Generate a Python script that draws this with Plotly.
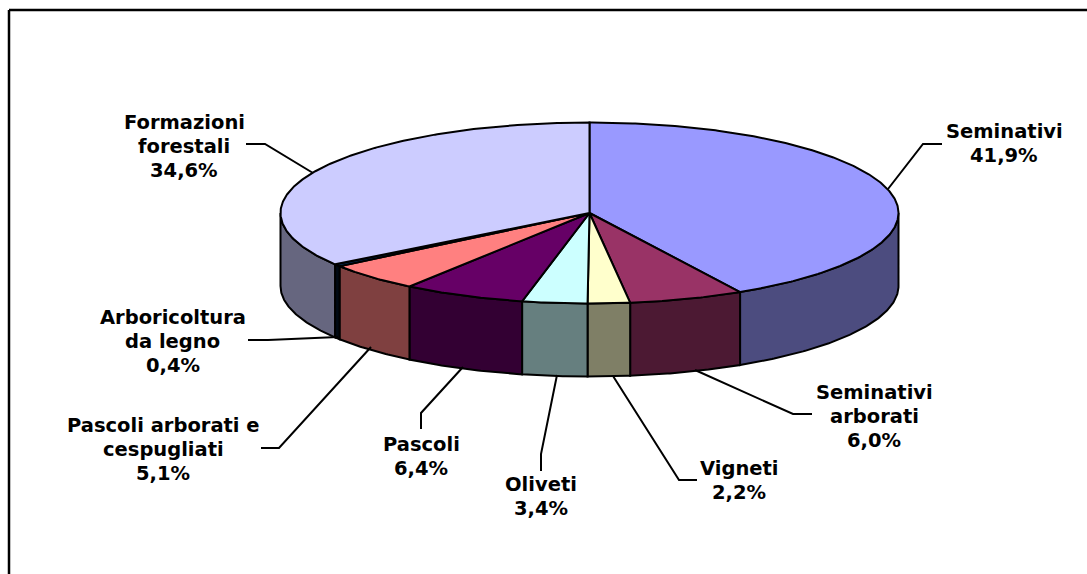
import math
import plotly.graph_objects as go

# --- data ---
categories = ["Seminativi", "Seminativi arborati", "Vigneti", "Oliveti", "Pascoli",
              "Pascoli arborati e cespugliati", "Arboricoltura da legno", "Formazioni forestali"]
shares = [41.9, 6.0, 2.2, 3.4, 6.4, 5.1, 0.4, 34.6]
label_lines = [["Seminativi"], ["Seminativi", "arborati"], ["Vigneti"], ["Oliveti"], ["Pascoli"],
               ["Pascoli arborati e", "cespugliati"], ["Arboricoltura", "da legno"], ["Formazioni", "forestali"]]

# --- style / layout ---
top_colors = ["#9999FF", "#993366", "#FFFFCC", "#CCFFFF", "#660066", "#FF8080", "#003366", "#CCCCFF"]
side_colors = ["#4C4C7F", "#4C1933", "#7F7F66", "#667F7F", "#330033", "#7F4040", "#000A14", "#66667F"]
W, H = 1087, 574
CX, CY, RX, RY, DEPTH = 589.5, 213, 309, 90.5, 73
FONT = dict(family="DejaVu Sans", size=19.5, color="#000000")
label_pos = [(1004, 131), (874, 392), (739, 468), (541, 484), (421, 444), (163, 425), (172.5, 317), (184, 122)]
LINE_GAP = 24
leaders = [
    [(888, 189), (923, 144), (942, 144)],
    [(695, 370), (793, 414), (812, 414)],
    [(613, 376), (679, 480), (697, 480)],
    [(557, 375), (541, 454), (541, 471)],
    [(463, 367), (421, 413), (421, 429)],
    [(371, 347), (279, 448), (261, 448)],
    [(338, 337), (268, 340), (248, 340)],
    [(313, 173), (265, 144), (246, 144)],
]


def rim(a0, a1, dy=0.0):
    """Points on the ellipse between two clockwise-from-top angles (degrees)."""
    n = max(2, int(abs(a1 - a0) * 2) + 1)
    pts = []
    for i in range(n):
        a = math.radians(a0 + (a1 - a0) * i / (n - 1))
        pts.append((CX + RX * math.sin(a), CY - RY * math.cos(a) + dy))
    return pts


fig = go.Figure()


def poly(pts, fill, hover):
    xs = [p[0] for p in pts] + [pts[0][0]]
    ys = [p[1] for p in pts] + [pts[0][1]]
    fig.add_trace(go.Scatter(x=xs, y=ys, mode="lines", fill="toself", fillcolor=fill,
                             line=dict(color="#000000", width=2), hoverinfo="text",
                             text=hover, showlegend=False))


total = sum(shares)
angles = [0.0]
for s in shares:
    angles.append(angles[-1] + 360 * s / total)

# visible side walls (front half of the disc)
for i, s in enumerate(shares):
    a0, a1 = max(angles[i], 90), min(angles[i + 1], 270)
    if a1 > a0:
        poly(rim(a0, a1) + rim(a1, a0, DEPTH), side_colors[i], categories[i])

# top face
for i, s in enumerate(shares):
    poly([(CX, CY)] + rim(angles[i], angles[i + 1]), top_colors[i], categories[i])

# leader lines
for seg in leaders:
    fig.add_trace(go.Scatter(x=[p[0] for p in seg], y=[p[1] for p in seg], mode="lines",
                             line=dict(color="#000000", width=2), hoverinfo="skip", showlegend=False))

# labels
annotations = []
for lines, s, (x, y) in zip(label_lines, shares, label_pos):
    rows = lines + [f"{s:.1f}%".replace(".", ",")]
    for k, row in enumerate(rows):
        annotations.append(dict(x=x, y=y + k * LINE_GAP, text=f"<b>{row}</b>", showarrow=False,
                                xanchor="center", yanchor="middle", font=FONT))

frame = dict(type="line", line=dict(color="#000000", width=2.5), layer="above")
fig.update_layout(
    width=W, height=H, margin=dict(l=0, r=0, t=0, b=0, pad=0),
    paper_bgcolor="#FFFFFF", plot_bgcolor="#FFFFFF", showlegend=False,
    xaxis=dict(range=[0, W], visible=False, fixedrange=True),
    yaxis=dict(range=[H, 0], visible=False, fixedrange=True),
    annotations=annotations,
    shapes=[dict(x0=9, x1=W, y0=10, y1=10, **frame), dict(x0=9, x1=9, y0=10, y1=H, **frame)],
)
fig.write_html("out.html", config={"displayModeBar": False},
               post_script="document.body.style.margin='0';document.body.style.overflow='hidden';")
